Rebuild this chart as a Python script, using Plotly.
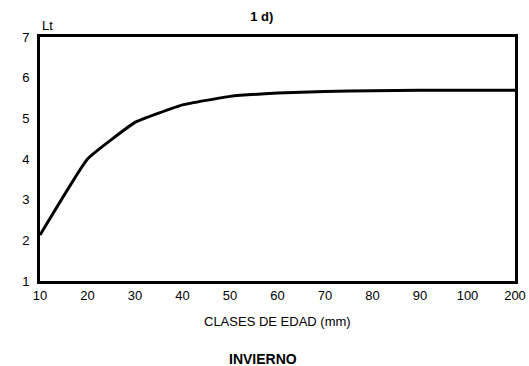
import plotly.graph_objects as go

categories = ["10", "20", "30", "40", "50", "60", "70", "80", "90", "100", "200"]
lt_values = [2.13, 4.0, 4.9, 5.33, 5.54, 5.62, 5.66, 5.68, 5.69, 5.69, 5.69]
y_ticks = [1, 2, 3, 4, 5, 6, 7]

FONT = "Liberation Sans, Arial, sans-serif"

fig = go.Figure()
fig.add_trace(go.Scatter(
    x=categories, y=lt_values, mode="lines",
    line=dict(color="black", width=3, shape="spline", smoothing=0.3),
    showlegend=False, hoverinfo="skip",
))

fig.update_layout(
    width=529, height=366,
    margin=dict(l=40, r=14, t=37, b=85),
    paper_bgcolor="white", plot_bgcolor="white",
    font=dict(family=FONT, size=12, color="black"),
    title=dict(text="<b>1 d)</b>", x=0.495, xanchor="center", y=0.956, yanchor="middle",
               font=dict(family=FONT, size=13, color="black")),
    xaxis=dict(
        type="category", range=[0, 10], automargin=False,
        showline=True, linecolor="black", linewidth=3, mirror=True,
        showgrid=False, zeroline=False, ticks="",
        tickfont=dict(family=FONT, size=13, color="black"),
    ),
    yaxis=dict(
        range=[1, 7], tickvals=y_ticks, automargin=False,
        showline=True, linecolor="black", linewidth=3, mirror=True,
        showgrid=False, zeroline=False, ticks="", ticklabelstandoff=5,
        tickfont=dict(family=FONT, size=13, color="black"),
    ),
    annotations=[
        dict(text="Lt", xref="paper", yref="paper", x=0.0, y=1.0, xanchor="left", yanchor="bottom",
             yshift=2, showarrow=False, font=dict(family=FONT, size=13, color="black")),
        dict(text="CLASES DE EDAD (mm)", xref="paper", yref="paper", x=0.499, y=-0.166,
             xanchor="center", yanchor="middle", showarrow=False,
             font=dict(family=FONT, size=13, color="black")),
        dict(text="<b>INVIERNO</b>", xref="paper", yref="paper", x=0.47, y=-0.32,
             xanchor="center", yanchor="middle", showarrow=False,
             font=dict(family=FONT, size=14, color="black")),
    ],
)

fig.write_html("out.html")
